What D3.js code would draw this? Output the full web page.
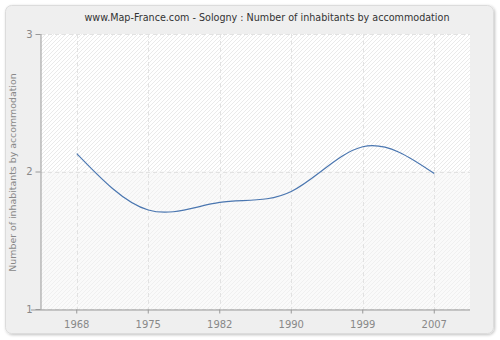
<!DOCTYPE html>
<html>
<head>
<meta charset="utf-8">
<script src="https://cdn.jsdelivr.net/npm/d3@7"></script>
<style>
  html, body { margin: 0; padding: 0; background: #ffffff; }
  svg { display: block; }
  text { font-family: "DejaVu Sans", sans-serif; }
</style>
</head>
<body>
<svg id="chart" width="500" height="340"></svg>
<script>
// Average number of inhabitants per dwelling, Sologny
const years = ["1968", "1975", "1982", "1990", "1999", "2007"];
const inhabitants = [2.13, 1.72, 1.775, 1.855, 2.18, 1.985];
const yTicks = [1, 2, 3];

const titleText = "www.Map-France.com - Sologny : Number of inhabitants by accommodation";
const yLabelText = "Number of inhabitants by accommodation";

const svg = d3.select("#chart");
const plot = { left: 41, right: 470, top: 34, bottom: 309 };

// Outer panel
const defs = svg.append("defs");
const shadow = defs.append("filter").attr("id", "panelShadow")
  .attr("x", "-5%").attr("y", "-5%").attr("width", "110%").attr("height", "110%");
shadow.append("feGaussianBlur").attr("in", "SourceAlpha").attr("stdDeviation", 1.5).attr("result", "b");
shadow.append("feOffset").attr("in", "b").attr("dx", 1).attr("dy", 1).attr("result", "o");
shadow.append("feComponentTransfer").attr("in", "o").attr("result", "s")
  .append("feFuncA").attr("type", "linear").attr("slope", 0.25);
const merge = shadow.append("feMerge");
merge.append("feMergeNode").attr("in", "s");
merge.append("feMergeNode").attr("in", "SourceGraphic");

svg.append("rect")
  .attr("x", 5.5).attr("y", 5.5).attr("width", 488).attr("height", 328)
  .attr("rx", 6).attr("ry", 6)
  .attr("fill", "#efefef").attr("stroke", "#dcdcdc").attr("stroke-width", 1)
  .attr("filter", "url(#panelShadow)");

// Hatch patterns for the plot background
function hatch(id, bg, line) {
  const p = defs.append("pattern").attr("id", id)
    .attr("patternUnits", "userSpaceOnUse").attr("width", 4).attr("height", 4);
  p.append("rect").attr("width", 4).attr("height", 4).attr("fill", bg);
  p.append("path").attr("d", "M-1,1 L1,-1 M0,4 L4,0 M3,5 L5,3")
    .attr("stroke", line).attr("stroke-width", 0.8);
}
hatch("hatchUpper", "#ffffff", "#e4e4e4");
hatch("hatchLower", "#fafafa", "#eeeeee");

const x = d3.scaleBand().domain(years).range([plot.left, plot.right]);
const xc = d => x(d) + x.bandwidth() / 2;
const y = d3.scaleLinear().domain([1, 3]).range([plot.bottom, plot.top]);

svg.append("rect")
  .attr("x", plot.left).attr("y", plot.top)
  .attr("width", plot.right - plot.left).attr("height", y(2) - plot.top)
  .attr("fill", "url(#hatchUpper)");
svg.append("rect")
  .attr("x", plot.left).attr("y", y(2))
  .attr("width", plot.right - plot.left).attr("height", plot.bottom - y(2))
  .attr("fill", "url(#hatchLower)");

// Grid lines
const grid = svg.append("g").attr("stroke", "#e2e2e2").attr("stroke-dasharray", "4,3").attr("stroke-width", 1);
years.forEach(yr => {
  grid.append("line")
    .attr("x1", Math.round(xc(yr)) + 0.5).attr("x2", Math.round(xc(yr)) + 0.5)
    .attr("y1", plot.top).attr("y2", plot.bottom);
});
yTicks.forEach(t => {
  grid.append("line")
    .attr("x1", plot.left).attr("x2", plot.right)
    .attr("y1", Math.round(y(t)) + 0.5).attr("y2", Math.round(y(t)) + 0.5);
});

// Axes
const xAxis = d3.axisBottom(x).tickSize(4).tickSizeOuter(0);
const gx = svg.append("g").attr("transform", `translate(0,${plot.bottom + 0.5})`).call(xAxis);
gx.select(".domain").attr("stroke", "#999").attr("d", `M${plot.left - 10},0.5H${plot.right}`);
gx.selectAll(".tick line").attr("stroke", "#999");
gx.selectAll(".tick text").attr("fill", "#888").attr("font-size", 10).attr("dy", "1.15em");

const yAxis = d3.axisLeft(y).tickValues(yTicks).tickFormat(d3.format("d")).tickSize(5).tickSizeOuter(0);
const gy = svg.append("g").attr("transform", `translate(${plot.left - 0.5},0)`).call(yAxis);
gy.select(".domain").attr("stroke", "#999").attr("d", `M0.5,${plot.top}V${plot.bottom + 0.5}`);
gy.selectAll(".tick line").attr("stroke", "#999");
gy.selectAll(".tick text").attr("fill", "#888").attr("font-size", 10).attr("x", -8);
gx.attr("font-family", null); gy.attr("font-family", null);

// Data line
const line = d3.line()
  .x((d, i) => xc(years[i]))
  .y(d => y(d))
  .curve(d3.curveNatural);
svg.append("path")
  .datum(inhabitants)
  .attr("fill", "none")
  .attr("stroke", "#4a76b0")
  .attr("stroke-width", 1.2)
  .attr("d", line);

// Title and y-axis label
svg.append("text")
  .attr("x", 267).attr("y", 21)
  .attr("text-anchor", "middle")
  .attr("font-size", 9.6)
  .attr("fill", "#333")
  .text(titleText);

svg.append("text")
  .attr("transform", `translate(16,${(plot.top + plot.bottom) / 2 + 1}) rotate(-90)`)
  .attr("text-anchor", "middle")
  .attr("font-size", 9.4)
  .attr("fill", "#888")
  .text(yLabelText);
</script>
</body>
</html>
